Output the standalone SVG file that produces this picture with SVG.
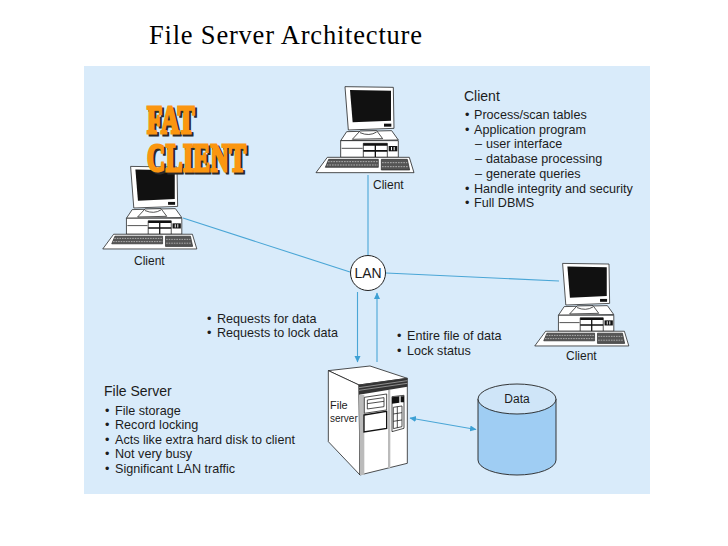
<svg xmlns="http://www.w3.org/2000/svg" width="728" height="546" viewBox="0 0 728 546">
<style>
text{font-family:"Liberation Sans",Arial,sans-serif;fill:#1c1c1c;font-size:12.6px}
.h{font-size:14px}
.lab{font-size:12px}
.title{font-family:"Liberation Serif","Times New Roman",serif;font-size:26.500px;letter-spacing:.8px;fill:#000}
.fat{font-family:"Liberation Serif","Times New Roman",serif;font-weight:bold;font-size:25px;letter-spacing:.6px}
.o{fill:#fb9610;stroke:#fb9610;stroke-width:1.800px}
.s{fill:#2a2a2a;stroke:#2a2a2a;stroke-width:1.800px}
.ln{fill:none;stroke:#4aa6d6;stroke-width:1.1}
.w{fill:#fff;stroke:#222;stroke-width:2.4;stroke-linejoin:round}
.k{fill:#111}
.t{fill:none;stroke:#222;stroke-width:2.4}
</style>
<defs>
<marker id="ah" markerWidth="7" markerHeight="7" refX="6" refY="3" orient="auto-start-reverse" markerUnits="userSpaceOnUse"><path d="M0 0L6.500 3L0 6Z" fill="#3da0d4"/></marker>
<g id="pc">
<path class="w" d="M105 20L250 22L252 145L115 150Z"/>
<path class="k" d="M120 30L243 32L243 122L128 127Z"/>
<path class="k" d="M222 131h22v9h-22z"/>
<path class="w" d="M110 155L245 152L265 180L92 182Z"/>
<path class="w" d="M127 178L150 153L200 152L218 176Z"/>
<path class="t" d="M150 158Q178 170 200 156"/>
<path class="w" d="M92 182H265V232H92Z"/>
<path class="t" d="M95 205H158"/>
<path class="w" d="M160 190H232V232H160Z"/>
<path class="k" d="M160 190H232V197H160ZM160 210H232V215H160ZM194 190H198V232H194Z"/>
<path class="k" d="M236 198H262V214H236Z"/>
<path fill="#fff" d="M243 201h3v10h-3zM251 201h3v10h-3z"/>
<path class="w" d="M18 278L52 232H298L312 278Z"/>
<path fill="#555" stroke="#222" stroke-width="2" d="M56 238H205V262H46ZM214 238H292L299 270H214Z"/>
<path stroke="#ddd" stroke-width="2" stroke-dasharray="5 3" fill="none" d="M54 245H204M50 255H204M216 248H292M216 260H296"/>
</g>
</defs>
<rect width="728" height="546" fill="#fff"/>
<rect x="84" y="66" width="566" height="428" fill="#d9ebfa"/>
<text class="title" x="149" y="44">File Server Architecture</text>

<g id="connectors">
<path class="ln" d="M183 218L350 272"/>
<path class="ln" d="M368 175V256"/>
<path class="ln" d="M386 273L559 281"/>
<path class="ln" d="M357.500 292V362" marker-end="url(#ah)"/>
<path class="ln" d="M377 362V293" stroke-width="1.500" marker-end="url(#ah)"/>
<path class="ln" d="M410 418L476 429.500" marker-start="url(#ah)" marker-end="url(#ah)"/>
</g>

<g id="client-left">
<use href="#pc" transform="translate(97 160) scale(.32)"/>
<text class="lab" x="134" y="265">Client</text>
</g>
<g id="client-top">
<use href="#pc" transform="translate(310 80) scale(.3333)"/>
<text class="lab" x="373" y="189">Client</text>
</g>
<g id="client-right">
<use href="#pc" transform="translate(529 257) scale(.32)"/>
<text class="lab" x="566" y="360">Client</text>
</g>

<g id="fat-client">
<text class="fat s" transform="translate(149 135) scale(1 1.6)">FAT</text>
<text class="fat s" transform="translate(149 173) scale(1 1.6)">CLIENT</text>
<text class="fat o" transform="translate(147 133) scale(1 1.6)">FAT</text>
<text class="fat o" transform="translate(147 171) scale(1 1.6)">CLIENT</text>
</g>

<g id="lan">
<circle cx="368" cy="273" r="17.500" fill="#fff" stroke="#222" stroke-width="1"/>
<text class="h" x="368" y="278" text-anchor="middle">LAN</text>
</g>

<g id="file-server" transform="translate(310 250) scale(.3333)">
<path class="w" d="M55 362L180 348L292 385L147 405Z"/>
<path class="w" d="M55 362L147 405L150 675L55 575Z"/>
<path class="w" d="M147 405L292 385V640L150 675Z"/>
<path fill="#333" d="M147 405L292 385V410L147 434Z"/>
<path stroke="#bbb" stroke-width="2" fill="none" d="M147 413L292 392M147 421L292 400"/>
<path fill="#bbb" d="M147 434h16v241h-13zM234 420h7v235h-7z"/>
<path class="w" d="M163 442L230 432V480L163 490Z"/>
<path class="t" d="M172 450L222 443V470L172 477ZM172 461L222 454"/>
<path fill="#fff" stroke="#111" stroke-width="4" d="M162 495L230 484V535L162 546Z"/>
<path class="w" d="M246 440L282 436V535L246 545Z"/>
<path class="k" d="M246 442L268 439V458L246 461ZM272 439h10v18h-10z"/>
<path class="t" d="M250 472L276 468V530L250 536ZM250 492L276 488M250 514L276 510M262 470V534"/>
<text x="60" y="478" style="font-size:33px">File</text>
<text x="60" y="517" style="font-size:30px">server</text>
</g>

<g id="data">
<path d="M478 399V460A39 15 0 0 0 556 460V399Z" fill="#9fcdf3" stroke="#222" stroke-width=".9"/>
<ellipse cx="517" cy="399" rx="39" ry="15" fill="#cfe5f8" stroke="#222" stroke-width=".9"/>
<text class="lab" x="517" y="403" text-anchor="middle">Data</text>
</g>

<g id="client-notes">
<text class="h" x="464" y="101">Client</text>
<text x="465" y="119">•<tspan x="474">Process/scan tables</tspan></text>
<text x="465" y="134">•<tspan x="474">Application program</tspan></text>
<text x="475" y="148">–<tspan x="486">user interface</tspan></text>
<text x="475" y="163">–<tspan x="486">database processing</tspan></text>
<text x="475" y="178">–<tspan x="486">generate queries</tspan></text>
<text x="465" y="193">•<tspan x="474">Handle integrity and security</tspan></text>
<text x="465" y="207">•<tspan x="474">Full DBMS</tspan></text>
</g>
<g id="server-notes">
<text class="h" x="104" y="396">File Server</text>
<text x="105" y="415">•<tspan x="115">File storage</tspan></text>
<text x="105" y="429">•<tspan x="115">Record locking</tspan></text>
<text x="105" y="444">•<tspan x="115">Acts like extra hard disk to client</tspan></text>
<text x="105" y="458">•<tspan x="115">Not very busy</tspan></text>
<text x="105" y="473">•<tspan x="115">Significant LAN traffic</tspan></text>
</g>
<g id="request-notes">
<text x="207" y="323">•<tspan x="217">Requests for data</tspan></text>
<text x="207" y="337">•<tspan x="217">Requests to lock data</tspan></text>
</g>
<g id="response-notes">
<text x="397" y="340">•<tspan x="407">Entire file of data</tspan></text>
<text x="397" y="355">•<tspan x="407">Lock status</tspan></text>
</g>
</svg>
